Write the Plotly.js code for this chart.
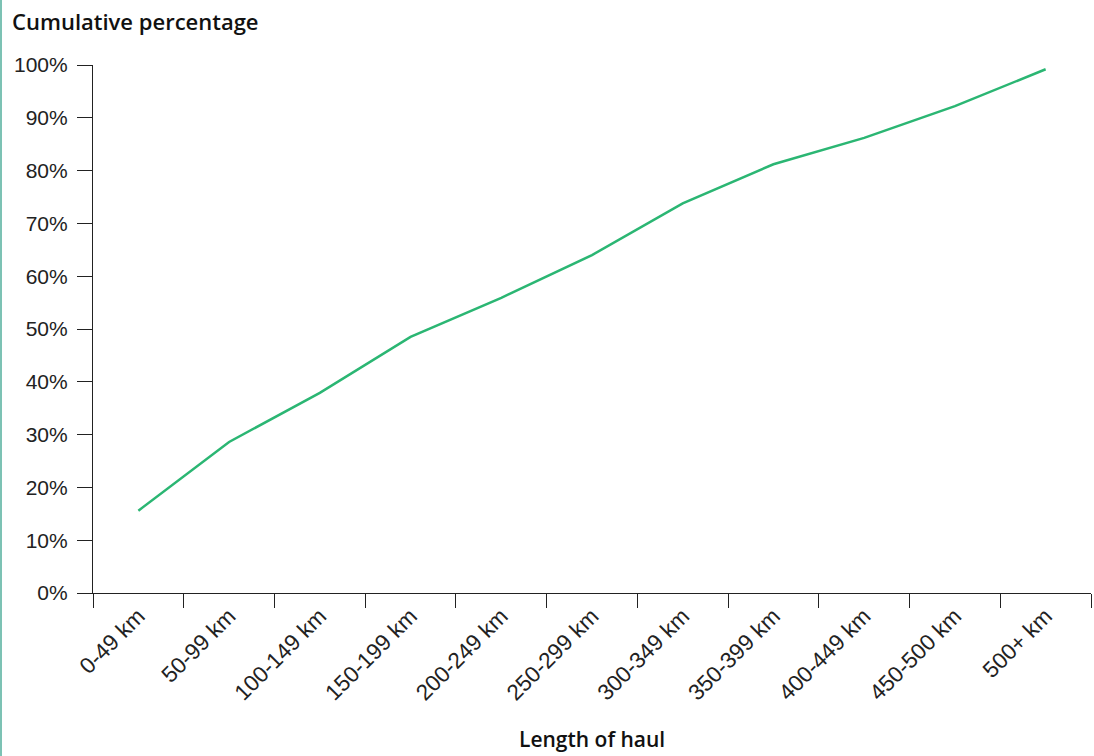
<!DOCTYPE html>
<html>
<head>
<meta charset="utf-8">
<script src="https://cdn.plot.ly/plotly-3.0.1.min.js"></script>
<style>
  html, body { margin: 0; padding: 0; background: #fff; }
  #wrap { position: relative; width: 1094px; height: 756px; }
  #edge { position: absolute; left: 0; top: 0; width: 2px; height: 756px; background: #7cc2b4; z-index: 5; }
  #chart { width: 1094px; height: 756px; }
</style>
</head>
<body>
<div id="wrap"><div id="edge"></div><div id="chart"></div></div>
<script>
const categories = ["0-49 km", "50-99 km", "100-149 km", "150-199 km", "200-249 km",
  "250-299 km", "300-349 km", "350-399 km", "400-449 km", "450-500 km", "500+ km"];
const cumulativePct = [15.6, 28.6, 37.9, 48.5, 55.9, 64.0, 73.8, 81.2, 86.2, 92.2, 99.2];
const yTickVals = [0, 10, 20, 30, 40, 50, 60, 70, 80, 90, 100];
const yTickText = yTickVals.map(v => v + "%");

const trace = {
  type: "scatter",
  mode: "lines",
  x: categories,
  y: cumulativePct,
  line: { color: "#2bb673", width: 2.5 },
  hoverinfo: "x+y"
};

const yTickFont = { family: "Liberation Sans, Arial, sans-serif", size: 21, color: "#222" };
const xTickFont = { family: "Liberation Sans, Arial, sans-serif", size: 22.5, color: "#222" };
const titleFont = { family: "Open Sans, Liberation Sans, Arial, sans-serif", size: 22, color: "#111", weight: 600 };
const xTitleFont = { family: "Open Sans, Liberation Sans, Arial, sans-serif", size: 21, color: "#111", weight: 600 };

const layout = {
  width: 1094, height: 756,
  margin: { l: 93, r: 3, t: 65, b: 163 },
  paper_bgcolor: "#fff", plot_bgcolor: "#fff",
  showlegend: false,
  title: {
    text: "Cumulative percentage",
    font: titleFont,
    xref: "container", x: 12 / 1094, xanchor: "left",
    yref: "container", y: 1 - 22 / 756, yanchor: "middle"
  },
  xaxis: {
    type: "category",
    tickson: "boundaries",
    ticks: "outside", ticklen: 14, tickwidth: 1.2, tickcolor: "#222",
    showline: true, linecolor: "#222", linewidth: 1.2,
    showgrid: false, zeroline: false,
    tickangle: -45,
    tickfont: xTickFont,
    range: [-0.5, categories.length - 0.5],
    automargin: false
  },
  yaxis: {
    range: [0, 100],
    tickmode: "array",
    tickvals: yTickVals,
    ticktext: yTickText,
    ticks: "outside", ticklen: 15, tickwidth: 1.2, tickcolor: "#222",
    showline: true, linecolor: "#222", linewidth: 1.2,
    showgrid: false, zeroline: false,
    tickfont: yTickFont,
    ticklabelstandoff: 5,
    automargin: false
  },
  annotations: [{
    text: "Length of haul",
    xref: "paper", x: 0.5, xanchor: "center",
    yref: "paper", y: -(739 - 593) / 528, yanchor: "middle",
    showarrow: false,
    font: xTitleFont
  }]
};

Plotly.newPlot("chart", [trace], layout, { displayModeBar: false });
</script>
</body>
</html>
